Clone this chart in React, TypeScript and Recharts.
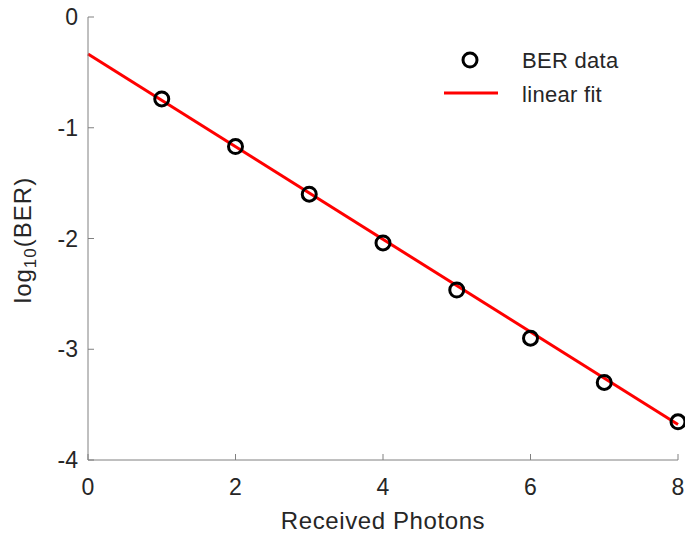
import { ComposedChart, Scatter, Line, XAxis, YAxis, Legend } from 'recharts';

const photons = [1, 2, 3, 4, 5, 6, 7, 8];
const logBer = [-0.74, -1.17, -1.6, -2.04, -2.465, -2.9, -3.3, -3.655];
const fitX = [0, 8];
const fitY = [-0.335, -3.68];
const xTicks = [0, 2, 4, 6, 8];
const yTicks = [-4, -3, -2, -1, 0];

const berData = photons.map((x, i) => ({ x, y: logBer[i] }));
const fitData = fitX.map((x, i) => ({ x, y: fitY[i] }));

const FONT = '"Liberation Sans", Arial, Helvetica, sans-serif';
const TEXT = '#262626';
const LIGHT = '#808080';
const DARK = '#262626';

const BottomTick = ({ x, y, payload }: any) => (
  <g>
    <line x1={x} y1={y} x2={x} y2={y - 6} stroke={LIGHT} />
    <text x={x} y={y + 35} textAnchor="middle" fill={TEXT} fontSize={23} fontFamily={FONT}>
      {payload.value}
    </text>
  </g>
);

const TopTick = ({ x, y }: any) => <line x1={x} y1={y} x2={x} y2={y + 6} stroke={DARK} />;

const LeftTick = ({ x, y, payload }: any) => (
  <g>
    <line x1={x} y1={y} x2={x + 6} y2={y} stroke={LIGHT} />
    <text x={x - 10} y={y + 8} textAnchor="end" fill={TEXT} fontSize={23} fontFamily={FONT}>
      {payload.value}
    </text>
  </g>
);

const RightTick = ({ x, y }: any) => <line x1={x} y1={y} x2={x - 6} y2={y} stroke={DARK} />;

const Ring = ({ cx, cy }: any) => (
  <circle cx={cx} cy={cy} r={7} fill="none" stroke="#000" strokeWidth={3} />
);

const LegendBox = () => (
  <svg width={220} height={80} style={{ display: 'block' }}>
    <circle cx={40} cy={25} r={7} fill="none" stroke="#000" strokeWidth={3} />
    <text x={92} y={33} fill={TEXT} fontSize={22} letterSpacing={0.3} fontFamily={FONT}>BER data</text>
    <line x1={14} y1={58} x2={68} y2={58} stroke="#ff0000" strokeWidth={3} />
    <text x={92} y={67} fill={TEXT} fontSize={22} letterSpacing={0.3} fontFamily={FONT}>linear fit</text>
  </svg>
);

export default function App() {
  return (
    <div style={{ position: 'absolute', left: 0, top: 0, background: '#fff' }}>
      <ComposedChart width={685} height={536} margin={{ top: 17, right: 7, bottom: 0, left: 0 }}>
        <XAxis
          dataKey="x"
          type="number"
          domain={[0, 8]}
          ticks={xTicks}
          height={76}
          tickSize={0}
          tickMargin={0}
          tickLine={false}
          axisLine={{ stroke: LIGHT }}
          tick={<BottomTick />}
          label={(props: any) => (
            <text x={383} y={529} textAnchor="middle" fill={TEXT} fontSize={24} letterSpacing={0.6} fontFamily={FONT}>
              Received Photons
            </text>
          )}
        />
        <XAxis
          xAxisId="top"
          orientation="top"
          type="number"
          domain={[0, 8]}
          ticks={xTicks}
          height={0}
          tickSize={0}
          tickMargin={0}
          tickLine={false}
          axisLine={{ stroke: DARK }}
          tick={<TopTick />}
        />
        <YAxis
          dataKey="y"
          type="number"
          domain={[-4, 0]}
          ticks={yTicks}
          width={88}
          tickSize={0}
          tickMargin={0}
          tickLine={false}
          axisLine={{ stroke: LIGHT }}
          tick={<LeftTick />}
          label={(props: any) => {
            const cx = 31;
            const cy = 240;
            return (
              <text
                x={cx}
                y={cy}
                transform={`rotate(-90 ${cx} ${cy})`}
                textAnchor="middle"
                fill={TEXT}
                fontSize={24}
                letterSpacing={1}
                fontFamily={FONT}
              >
                <tspan>log</tspan>
                <tspan dy={5} fontSize={17}>10</tspan>
                <tspan dy={-5}>(BER)</tspan>
              </text>
            );
          }}
        />
        <YAxis
          yAxisId="right"
          orientation="right"
          type="number"
          domain={[-4, 0]}
          ticks={yTicks}
          width={0}
          tickSize={0}
          tickMargin={0}
          tickLine={false}
          axisLine={{ stroke: DARK }}
          tick={<RightTick />}
        />
        <Legend
          layout="vertical"
          verticalAlign="middle"
          align="center"
          content={() => <LegendBox />}
          wrapperStyle={{ left: 430, top: 35, width: 220 }}
        />
        <Scatter name="BER data" data={berData} shape={<Ring />} isAnimationActive={false} />
        <Line
          name="linear fit"
          data={fitData}
          dataKey="y"
          type="linear"
          stroke="#ff0000"
          strokeWidth={3}
          dot={false}
          activeDot={false}
          isAnimationActive={false}
        />
      </ComposedChart>
    </div>
  );
}
